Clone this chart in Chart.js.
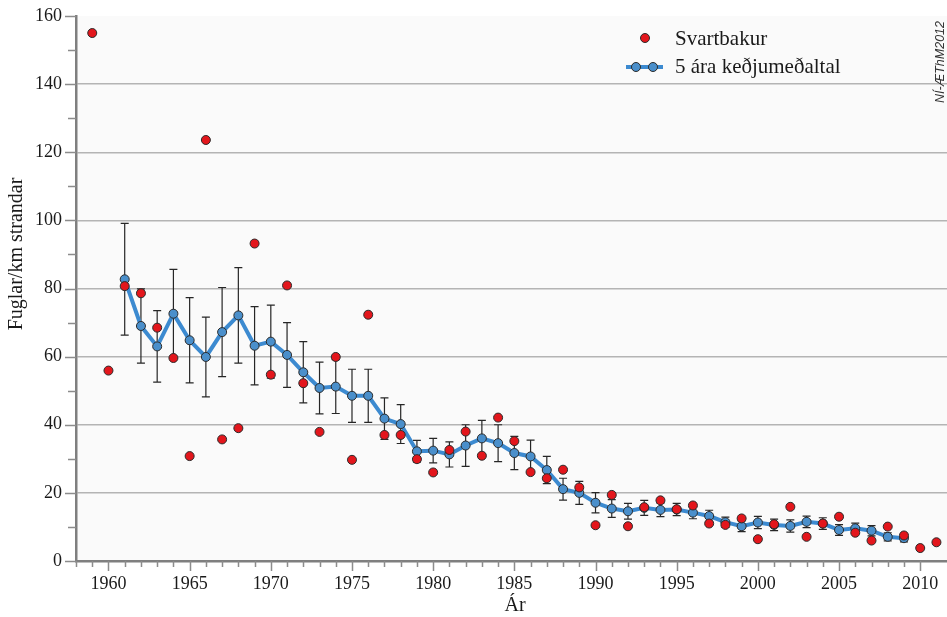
<!DOCTYPE html>
<html><head><meta charset="utf-8">
<script src="https://cdn.jsdelivr.net/npm/chart.js@4.4.0/dist/chart.umd.min.js"></script>
<style>html,body{margin:0;padding:0;background:#fff}#wrap{width:947px;height:617px;position:relative}</style>
</head><body><div id="wrap"><canvas id="c" width="947" height="617"></canvas></div>
<script>
const surveyYears = [1959,1960,1961,1962,1963,1964,1965,1966,1967,1968,1969,1970,1971,1972,1973,1974,1975,1976,1977,1978,1979,1980,1981,1982,1983,1984,1985,1986,1987,1988,1989,1990,1991,1992,1993,1994,1995,1996,1997,1998,1999,2000,2001,2002,2003,2004,2005,2006,2007,2008,2009,2010,2011];
const svartbakur = [155,55.9,80.7,78.6,68.5,59.6,30.8,123.6,35.7,39.0,93.2,54.7,80.9,52.2,37.9,59.9,29.7,72.3,37.0,37.0,29.9,26.0,32.6,38.0,30.9,42.1,35.2,26.1,24.3,26.8,21.6,10.5,19.4,10.2,15.8,17.8,15.2,16.3,11.0,10.6,12.5,6.4,10.8,15.9,7.1,11.0,13.0,8.3,6.0,10.1,7.5,3.8,5.5];
const meanYears = [1961,1962,1963,1964,1965,1966,1967,1968,1969,1970,1971,1972,1973,1974,1975,1976,1977,1978,1979,1980,1981,1982,1983,1984,1985,1986,1987,1988,1989,1990,1991,1992,1993,1994,1995,1996,1997,1998,1999,2000,2001,2002,2003,2004,2005,2006,2007,2008,2009];
const runningMean = [82.7,69.0,63.0,72.6,64.8,59.9,67.2,72.1,63.2,64.4,60.5,55.4,50.8,51.2,48.5,48.5,41.8,40.2,32.2,32.4,31.3,33.9,36.0,34.6,31.7,30.7,26.7,21.1,20.0,17.1,15.4,14.6,15.6,15.0,15.1,14.2,13.2,11.4,10.2,11.3,10.6,10.3,11.5,11.0,9.1,9.6,8.9,7.1,6.7];
const meanError = [16.4,10.9,10.5,13.0,12.5,11.7,13.1,14.0,11.5,10.7,9.5,9.0,7.6,7.9,7.8,7.8,6.1,5.7,3.2,3.6,3.7,6.1,5.3,5.4,4.9,4.8,4.0,3.2,3.4,3.0,2.6,2.3,2.2,2.0,1.8,1.8,1.7,1.5,1.6,1.8,1.7,1.8,1.7,1.7,1.6,1.5,1.5,1.2,1.1];
const seriesNames = ['Svartbakur','5 ára keðjumeðaltal'];
const yTitle = 'Fuglar/km strandar';
const xTitle = 'Ár';
const credit = 'NÍ-ÆThM2012';

const SERIF = '"Liberation Serif","DejaVu Serif",serif';
const RED = '#e3161c', BLUE_LINE = '#3c8ad0', BLUE_PT = '#4a8fcb', EDGE = '#2b2b2b';

const bgPlugin = {
  id: 'bg',
  beforeDraw(chart) {
    const {ctx, chartArea: a} = chart;
    ctx.save();
    ctx.fillStyle = '#ffffff';
    ctx.fillRect(0, 0, chart.width, chart.height);
    ctx.fillStyle = '#fafafa';
    ctx.fillRect(a.left, a.top, a.right - a.left, a.bottom - a.top);
    ctx.restore();
  }
};

const errPlugin = {
  id: 'errbars',
  beforeDatasetsDraw(chart) {
    const {ctx, scales: {x, y}} = chart;
    ctx.save();
    ctx.strokeStyle = '#262626';
    ctx.lineWidth = 1.2;
    meanYears.forEach((yr, i) => {
      const px = x.getPixelForValue(yr);
      const t = y.getPixelForValue(runningMean[i] + meanError[i]);
      const b = y.getPixelForValue(runningMean[i] - meanError[i]);
      ctx.beginPath();
      ctx.moveTo(px, t); ctx.lineTo(px, b);
      ctx.moveTo(px - 4, t); ctx.lineTo(px + 4, t);
      ctx.moveTo(px - 4, b); ctx.lineTo(px + 4, b);
      ctx.stroke();
    });
    ctx.restore();
  }
};

const decoPlugin = {
  id: 'deco',
  afterDraw(chart) {
    const {ctx, chartArea: a, scales: {x, y}} = chart;
    ctx.save();
    ctx.strokeStyle = '#8c8c8c';
    ctx.lineWidth = 1.5;
    ctx.beginPath();
    y.ticks.forEach(t => {
      const py = Math.round(y.getPixelForValue(t.value)) + 0.5;
      const major = t.value % 20 === 0;
      ctx.moveTo(a.left - (major ? 11 : 8), py); ctx.lineTo(a.left, py);
    });
    x.ticks.forEach(t => {
      if (!Number.isInteger(t.value)) return;
      const px = Math.round(x.getPixelForValue(t.value)) + 0.5;
      const major = t.value % 5 === 0;
      ctx.moveTo(px, a.bottom); ctx.lineTo(px, a.bottom + (major ? 10 : 6));
    });
    ctx.stroke();
    ctx.fillStyle = '#1a1a1a';
    ctx.font = '20px ' + SERIF;
    ctx.textAlign = 'center';
    ctx.textBaseline = 'middle';
    ctx.fillText(xTitle, 515, 606);
    ctx.save();
    ctx.translate(17, 254);
    ctx.rotate(-Math.PI / 2);
    ctx.fillText(yTitle, 0, 0);
    ctx.restore();
    ctx.save();
    ctx.translate(941, 62);
    ctx.rotate(-Math.PI / 2);
    ctx.font = 'italic 12.5px "Liberation Sans", Arial, sans-serif';
    ctx.fillStyle = '#333';
    ctx.fillText(credit, 0, 0);
    ctx.restore();
    ctx.textAlign = 'left';
    ctx.font = '21px ' + SERIF;
    ctx.beginPath();
    ctx.arc(645, 38, 4.5, 0, Math.PI * 2);
    ctx.fillStyle = RED; ctx.fill();
    ctx.lineWidth = 1; ctx.strokeStyle = EDGE; ctx.stroke();
    ctx.beginPath();
    ctx.moveTo(626, 67); ctx.lineTo(663, 67);
    ctx.strokeStyle = BLUE_LINE; ctx.lineWidth = 4; ctx.stroke();
    [636, 653].forEach(cx => {
      ctx.beginPath();
      ctx.arc(cx, 67, 4.5, 0, Math.PI * 2);
      ctx.fillStyle = BLUE_PT; ctx.fill();
      ctx.lineWidth = 1; ctx.strokeStyle = EDGE; ctx.stroke();
    });
    ctx.fillStyle = '#1a1a1a';
    ctx.fillText(seriesNames[0], 675, 39);
    ctx.fillText(seriesNames[1], 675, 67);
    ctx.restore();
  }
};

function zeroPad(s) { s.paddingLeft = 0; s.paddingRight = 0; s.paddingTop = 0; s.paddingBottom = 0; }

new Chart(document.getElementById('c'), {
  type: 'scatter',
  data: {
    datasets: [
      {
        label: seriesNames[0],
        data: surveyYears.map((yr, i) => ({x: yr, y: svartbakur[i]})),
        showLine: false,
        pointRadius: 4.5,
        pointBackgroundColor: RED,
        pointBorderColor: EDGE,
        pointBorderWidth: 1,
        order: 0
      },
      {
        label: seriesNames[1],
        data: meanYears.map((yr, i) => ({x: yr, y: runningMean[i]})),
        showLine: true,
        borderColor: BLUE_LINE,
        borderWidth: 4,
        tension: 0,
        pointRadius: 4.5,
        pointBackgroundColor: BLUE_PT,
        pointBorderColor: EDGE,
        pointBorderWidth: 1,
        order: 1
      }
    ]
  },
  options: {
    responsive: false,
    animation: false,
    devicePixelRatio: 1,
    layout: {autoPadding: false, padding: {top: 16, left: 0, right: 0, bottom: 0}},
    plugins: {legend: {display: false}, tooltip: {enabled: false}},
    scales: {
      x: {
        type: 'linear',
        min: 1958,
        max: 2011.65,
        afterFit(s) { s.height = 56; zeroPad(s); },
        ticks: {
          stepSize: 1,
          autoSkip: false,
          maxRotation: 0,
          padding: 12,
          color: '#1a1a1a',
          font: {family: SERIF, size: 18},
          callback: v => (Number.isInteger(v) && v % 5 === 0) ? String(v) : ''
        },
        grid: {color: 'rgba(0,0,0,0)', drawTicks: false},
        border: {display: true, color: '#7f7f7f', width: 2.5}
      },
      y: {
        min: 0,
        max: 160,
        afterFit(s) { s.width = 76; zeroPad(s); },
        ticks: {
          stepSize: 10,
          autoSkip: false,
          padding: 14,
          color: '#1a1a1a',
          font: {family: SERIF, size: 18},
          callback: v => (v % 20 === 0) ? String(v) : ''
        },
        grid: {
          drawTicks: false,
          lineWidth: 1.5,
          color: c => (c.tick && c.tick.value % 20 === 0 && c.tick.value > 0 && c.tick.value < 160) ? '#b4b4b4' : 'rgba(0,0,0,0)'
        },
        border: {display: true, color: '#7f7f7f', width: 2.5}
      }
    }
  },
  plugins: [bgPlugin, errPlugin, decoPlugin]
});
</script>
</body></html>
